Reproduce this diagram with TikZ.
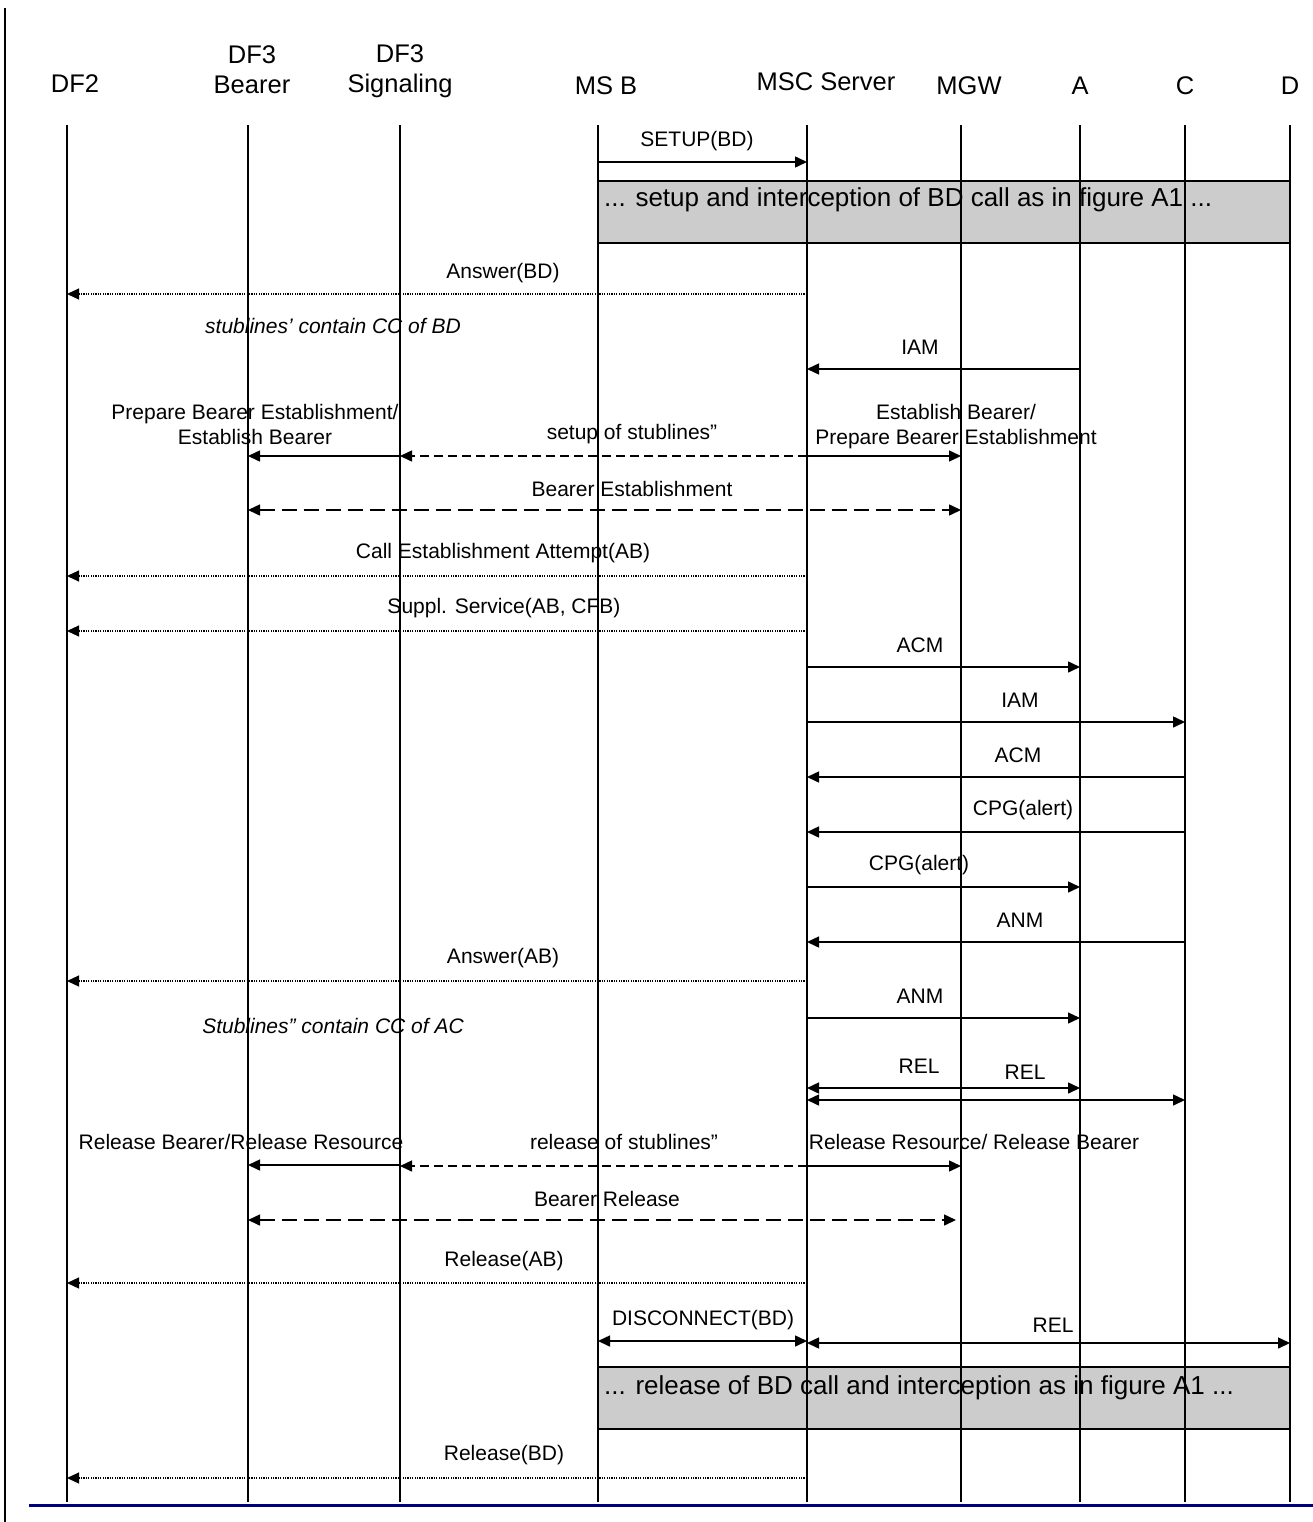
\documentclass[tikz,border=0pt]{standalone}
\usepackage{fontspec}
\setmainfont{Liberation Sans}
\usetikzlibrary{arrows.meta}
\definecolor{navy}{RGB}{0,0,128}
\begin{document}
\begin{tikzpicture}[x=1pt,y=-1pt,>={Triangle[length=12pt,width=11pt]}]
  \tikzstyle{head}=[font=\fontsize{25.5}{30}\selectfont,align=center,inner sep=0pt]
  \tikzstyle{lbl}=[font=\fontsize{21}{25}\selectfont,align=center,inner sep=0pt]
  \tikzstyle{note}=[lbl,font=\fontsize{21}{25}\selectfont\itshape]
  \tikzstyle{lifeline}=[line width=1.5pt]
  \tikzstyle{msg}=[line width=1.5pt,->]
  \tikzstyle{both}=[line width=1.5pt,<->]
  \tikzstyle{sig}=[msg,dash pattern=on 9pt off 5pt]
  \tikzstyle{bear}=[both,dash pattern=on 15pt off 7pt]
  \tikzstyle{ret}=[line width=1.2pt,->,dash pattern=on 1.2pt off 1.2pt]
  \tikzstyle{callbox}=[fill=black!20,draw,line width=2pt]
  \tikzstyle{boxtext}=[font=\fontsize{26}{30}\selectfont,anchor=west,inner sep=0pt]

  \useasboundingbox (0,0) rectangle (1313,1522);

  % heads
  \node[head] (H_DF2) at (75,84)   {DF2};
  \node[head] (H_BEA) at (252,70)  {DF3\\Bearer};
  \node[head] (H_SIG) at (400,71)  {DF3\\Signaling};
  \node[head] (H_MSB) at (606,86)  {MS B};
  \node[head] (H_MSC) at (826,82)  {MSC Server};
  \node[head] (H_MGW) at (969,86)  {MGW};
  \node[head] (H_A)   at (1080,86) {A};
  \node[head] (H_C)   at (1185,86) {C};
  \node[head] (H_D)   at (1290,86) {D};

  \coordinate (L_DF2) at (67,125);
  \coordinate (L_BEA) at (248,125);
  \coordinate (L_SIG) at (400,125);
  \coordinate (L_MSB) at (598,125);
  \coordinate (L_MSC) at (807,125);
  \coordinate (L_MGW) at (961,125);
  \coordinate (L_A)   at (1080,125);
  \coordinate (L_C)   at (1185,125);
  \coordinate (L_D)   at (1290,125);

  % grey call boxes
  \draw[callbox] (L_MSB |- 0,181) rectangle (L_D |- 0,243);
  \node[boxtext] (B_1) at (604,200) {... setup and interception of BD call as in figure A1 ...};
  \draw[callbox] (L_MSB |- 0,1367) rectangle (L_D |- 0,1429);
  \node[boxtext] (B_2) at (604,1388) {... release of BD call and interception as in figure A1 ...};

  % lifelines
  \draw[line width=2pt] (L_DF2) -- (L_DF2 |- 0,1502);
  \foreach \l in {BEA,SIG,MSB,MSC,MGW,A,C,D}
    \draw[lifeline] (L_\l) -- (L_\l |- 0,1502);

  \node[lbl] (t_1) at (697,141) {SETUP(BD)};
  \draw[msg] (L_MSB |- 0,162) -- (L_MSC |- 0,162);

  \node[lbl] (t_2) at (503,273) {Answer(BD)};
  \draw[ret] (L_MSC |- 0,294) -- (L_DF2 |- 0,294);

  \node[note] (n_1) at (333,326) {stublines’ contain CC of BD};

  \node[lbl] (t_3) at (920,347) {IAM};
  \draw[msg] (L_A |- 0,369) -- (L_MSC |- 0,369);

  \node[lbl] (t_4) at (255,424) {Prepare Bearer Establishment/\\Establish Bearer};
  \draw[msg] (L_SIG |- 0,456) -- (L_BEA |- 0,456);
  \node[lbl] (t_5) at (632,434) {setup of stublines”};
  \draw[sig] (L_MSC |- 0,456) -- (L_SIG |- 0,456);
  \node[lbl] (t_6) at (956,427) {Establish Bearer/\\Prepare Bearer Establishment};
  \draw[msg] (L_MSC |- 0,456) -- (L_MGW |- 0,456);

  \node[lbl] (t_7) at (632,489) {Bearer Establishment};
  \draw[bear] (L_BEA |- 0,510) -- (L_MGW |- 0,510);

  \node[lbl] (t_8) at (503,553) {Call Establishment Attempt(AB)};
  \draw[ret] (L_MSC |- 0,576) -- (L_DF2 |- 0,576);

  \node[lbl] (t_9) at (504,608) {Suppl. Service(AB, CFB)};
  \draw[ret] (L_MSC |- 0,631) -- (L_DF2 |- 0,631);

  \node[lbl] (t_10) at (920,645) {ACM};
  \draw[msg] (L_MSC |- 0,667) -- (L_A |- 0,667);

  \node[lbl] (t_11) at (1020,700) {IAM};
  \draw[msg] (L_MSC |- 0,722) -- (L_C |- 0,722);

  \node[lbl] (t_12) at (1018,755) {ACM};
  \draw[msg] (L_C |- 0,777) -- (L_MSC |- 0,777);

  \node[lbl] (t_13) at (1023,810) {CPG(alert)};
  \draw[msg] (L_C |- 0,832) -- (L_MSC |- 0,832);

  \node[lbl] (t_14) at (919,865) {CPG(alert)};
  \draw[msg] (L_MSC |- 0,887) -- (L_A |- 0,887);

  \node[lbl] (t_15) at (1020,920) {ANM};
  \draw[msg] (L_C |- 0,942) -- (L_MSC |- 0,942);

  \node[lbl] (t_16) at (503,958) {Answer(AB)};
  \draw[ret] (L_MSC |- 0,981) -- (L_DF2 |- 0,981);

  \node[lbl] (t_17) at (920,996) {ANM};
  \draw[msg] (L_MSC |- 0,1018) -- (L_A |- 0,1018);

  \node[note] (n_2) at (333,1026) {Stublines” contain CC of AC};

  \node[lbl] (t_18) at (919,1066) {REL};
  \node[lbl] (t_19) at (1025,1072) {REL};
  \draw[both] (L_MSC |- 0,1088) -- (L_A |- 0,1088);
  \draw[both] (L_MSC |- 0,1100) -- (L_C |- 0,1100);

  \node[lbl] (t_20) at (241,1142) {Release Bearer/Release Resource};
  \draw[msg] (L_SIG |- 0,1165) -- (L_BEA |- 0,1165);
  \node[lbl] (t_21) at (624,1142) {release of stublines”};
  \draw[sig] (L_MSC |- 0,1166) -- (L_SIG |- 0,1166);
  \node[lbl] (t_22) at (974,1142) {Release Resource/ Release Bearer};
  \draw[msg] (L_MSC |- 0,1166) -- (L_MGW |- 0,1166);

  \node[lbl] (t_23) at (607,1199) {Bearer Release};
  \draw[bear,shorten >=5pt] (L_BEA |- 0,1220) -- (L_MGW |- 0,1220);

  \node[lbl] (t_24) at (504,1261) {Release(AB)};
  \draw[ret] (L_MSC |- 0,1283) -- (L_DF2 |- 0,1283);

  \node[lbl] (t_25) at (703,1320) {DISCONNECT(BD)};
  \draw[both] (L_MSB |- 0,1341) -- (L_MSC |- 0,1341);
  \node[lbl] (t_26) at (1053,1325) {REL};
  \draw[both] (L_MSC |- 0,1343) -- (L_D |- 0,1343);

  \node[lbl] (t_27) at (504,1455) {Release(BD)};
  \draw[ret] (L_MSC |- 0,1478) -- (L_DF2 |- 0,1478);

  % frame
  \draw[line width=1.5pt] (5,8) -- (5,1522);
  \draw[line width=3pt,navy] (29,1505) -- (1313,1505);
\end{tikzpicture}
\end{document}
